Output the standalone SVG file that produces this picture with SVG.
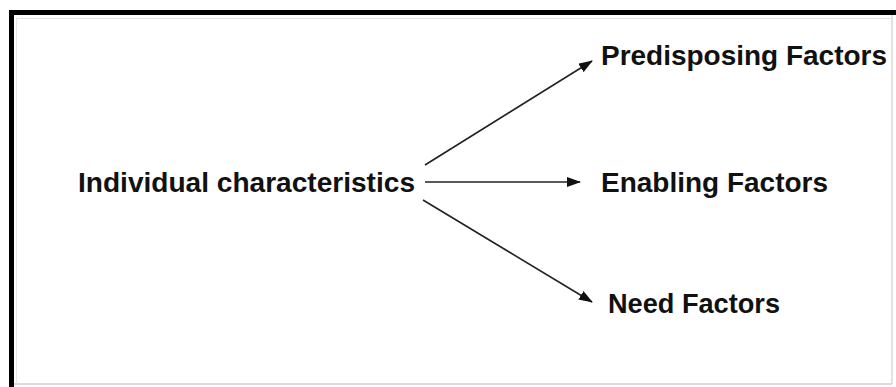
<svg xmlns="http://www.w3.org/2000/svg" width="896" height="387" viewBox="0 0 896 387">
  <style>
    .label { font-family: "Liberation Sans", Arial, sans-serif; font-weight: bold; font-size: 27px; fill: #111; }
    .conn { stroke: #222; stroke-width: 1.6; fill: none; marker-end: url(#arrow); }
  </style>
  <defs>
    <marker id="arrow" viewBox="0 0 14 10" refX="13" refY="5" markerWidth="14" markerHeight="10" markerUnits="userSpaceOnUse" orient="auto">
      <path d="M0,0 L14,5 L0,10 Z" fill="#111"/>
    </marker>
  </defs>
  <rect width="896" height="387" fill="#fff"/>
  <!-- frame: heavy top/left edge, light bottom/right edge -->
  <g id="frame">
    <line x1="892" y1="14" x2="892" y2="384" stroke="#d8d8d8" stroke-width="1.5"/>
    <line x1="11" y1="384" x2="892" y2="384" stroke="#cfcfcf" stroke-width="1.5"/>
    <line x1="16" y1="18.5" x2="892" y2="18.5" stroke="#e2e2e2" stroke-width="1"/>
    <line x1="16.5" y1="18" x2="16.5" y2="384" stroke="#e6e6e6" stroke-width="1"/>
    <line x1="9" y1="12.5" x2="896" y2="12.5" stroke="#000" stroke-width="5"/>
    <line x1="11.5" y1="10" x2="11.5" y2="387" stroke="#000" stroke-width="5"/>
  </g>
  <g id="connectors">
    <line class="conn" x1="425" y1="165" x2="592" y2="61"/>
    <line class="conn" x1="425" y1="182" x2="580" y2="182"/>
    <line class="conn" x1="423" y1="200" x2="592" y2="302"/>
  </g>
  <g id="individual">
    <text class="label" x="78" y="192" textLength="337" lengthAdjust="spacingAndGlyphs">Individual characteristics</text>
  </g>
  <g id="predisposing">
    <text class="label" x="601" y="65" textLength="286" lengthAdjust="spacingAndGlyphs">Predisposing Factors</text>
  </g>
  <g id="enabling">
    <text class="label" x="601" y="192" textLength="227" lengthAdjust="spacingAndGlyphs">Enabling Factors</text>
  </g>
  <g id="need">
    <text class="label" x="608" y="313" textLength="172" lengthAdjust="spacingAndGlyphs">Need Factors</text>
  </g>
</svg>
